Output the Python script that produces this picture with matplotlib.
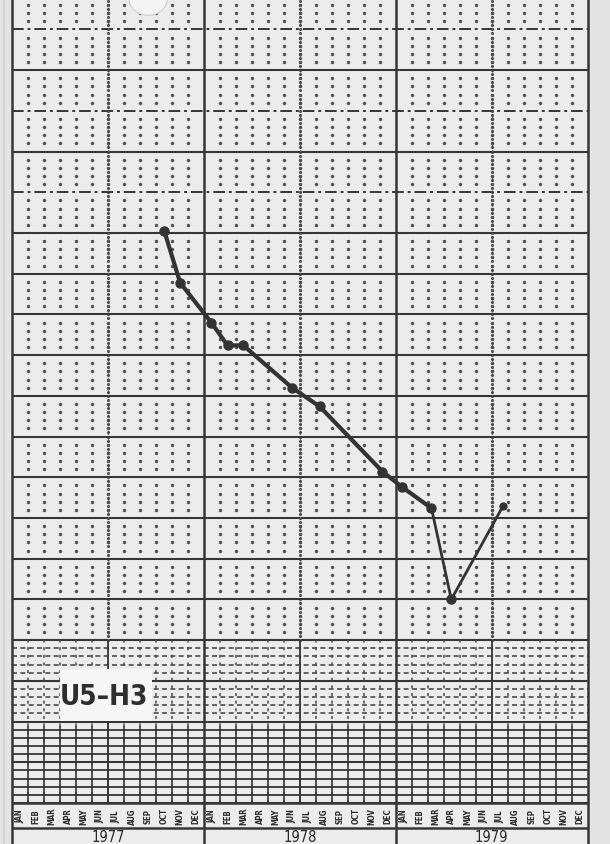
import numpy as np
import pandas as pd
import matplotlib
matplotlib.use("Agg")
import matplotlib.pyplot as plt
from matplotlib.patches import Rectangle, Ellipse
from matplotlib.lines import Line2D
from matplotlib import font_manager


# water level readings for well U5-H3
dates = ["1977-10-17", "1977-11-16", "1978-01-15", "1978-02-14", "1978-03-15",
         "1978-06-16", "1978-08-08", "1978-12-06", "1979-01-13", "1979-03-08",
         "1979-04-15", "1979-07-23"]
levels = [7.02, 6.39, 5.90, 5.62, 5.62, 5.10, 4.87, 4.07, 3.88, 3.62, 2.50, 3.65]

years = [1977, 1978, 1979]
month_abbr = ["JAN", "FEB", "MAR", "APR", "MAY", "JUN",
              "JUL", "AUG", "SEP", "OCT", "NOV", "DEC"]
well_name = "U5\u2013H3"

INK = "#363636"

# pick a narrow face if one is around
names = {f.name for f in font_manager.fontManager.ttflist}
stretches = {(f.name, f.stretch) for f in font_manager.fontManager.ttflist}
if "Liberation Sans Narrow" in names:
    NARROW = dict(family=["Liberation Sans Narrow", "DejaVu Sans"])
elif ("DejaVu Sans", "condensed") in stretches or \
        ("DejaVu Sans", "semi-condensed") in stretches:
    NARROW = dict(family=["DejaVu Sans"], fontstretch="condensed")
else:
    NARROW = dict(family=["Roboto", "DejaVu Sans"])


def to_months(date_strings):
    d = pd.to_datetime(date_strings)
    return ((d.year - years[0]) * 12 + (d.month - 1)
            + (d.day - 1) / d.days_in_month).to_numpy(dtype=float)


n_months = 12 * len(years)
px = 81.43                      # pixels per metre on the sheet
y_top = 804 / px
y_bot = -41 / px
strip = -25 / px

fig = plt.figure(figsize=(6.1, 8.45), dpi=100, facecolor="#e4e4e4")
ax = fig.add_axes([12.3 / 610, 0, 575.4 / 610, 1])
ax.set_facecolor("#ececec")
ax.set_xlim(0, n_months)
ax.set_ylim(y_bot, y_top)
ax.set_xticks([])
ax.set_yticks([])
for side in ["top", "bottom"]:
    ax.spines[side].set_visible(False)
for side in ["left", "right"]:
    ax.spines[side].set_color(INK)
    ax.spines[side].set_linewidth(1.8)

# major horizontal lines every 0.5
for k in range(0, 20):
    v = 0.5 * k
    if v > y_top:
        break
    if v >= 7.5 and k % 2 == 1:
        ax.hlines(v, 0, n_months, color=INK, lw=1.4, ls=(0, (6, 2, 1.5, 2)))
    else:
        ax.hlines(v, 0, n_months, color=INK, lw=1.5)

# minor rows every 0.1
months = np.arange(1, n_months)
month_cols = months[months % 12 != 0]
mid_year = months[months % 12 == 6]
rows = np.round(np.arange(0.1, y_top, 0.1), 2)
rows = rows[np.abs(rows / 0.5 - np.round(rows / 0.5)) > 1e-6]

dot_rows = rows[rows > 2.0]
gx, gy = np.meshgrid(month_cols, dot_rows)
ax.scatter(gx.ravel(), gy.ravel(), s=6, color="#505050", lw=0, zorder=1)
mx, my = np.meshgrid(mid_year, np.round(np.arange(2.0, y_top, 0.05), 3))
ax.scatter(mx.ravel(), my.ravel(), s=5, color="#4a4a4a", lw=0, zorder=1)
ax.vlines(mid_year, 2.0, y_top, color="#6a6a6a", lw=1.0, ls=(0, (1, 3)))

for v in rows[(rows > 0.9) & (rows < 2.0)]:
    ax.hlines(v, 0, n_months, color="#4a4a4a", lw=1.2, ls=(0, (3, 2)))
for v in rows[rows < 0.95]:
    ax.hlines(v, 0, n_months, color=INK, lw=1.3)
ax.vlines(month_cols, 0, 2.0, color="#4a4a4a", lw=1.1, ls=(0, (2, 3)))
ax.vlines(month_cols, 0, 0.95, color=INK, lw=1.2)
ax.vlines(mid_year, 0, 2.0, color=INK, lw=1.3)

# year dividers and bottom strip
ax.vlines([12 * i for i in range(1, len(years))], y_bot, y_top, color=INK, lw=1.8)
ax.hlines([0, strip], 0, n_months, color=INK, lw=1.8)

for i, yr in enumerate(years):
    for j, m in enumerate(month_abbr):
        ax.text(12 * i + j + 0.5, strip / 2, m, rotation=90, ha="center",
                va="center", fontsize=5.6, fontweight="bold", color="#2a2a2a",
                **NARROW)
    ax.text(12 * i + 6, -38.5 / px, str(yr), ha="center", va="baseline",
            fontsize=10.5, color="#2a2a2a", **NARROW)

# well label
ax.add_patch(Rectangle((2.99, 1.007), 5.77, 0.64, facecolor="#f6f6f6",
                       edgecolor="none", zorder=3))
ax.text(5.75, 1.32, well_name, ha="center", va="center", fontsize=20,
        fontweight="bold", color="#2e2e2e", zorder=4, **NARROW)

# smudge at top edge
ax.add_patch(Ellipse((8.5, y_top), 2.4, 0.4, facecolor="#f4f4f4",
                     edgecolor="#cfcfcf", lw=0.8, zorder=3))

# hydrograph
t = to_months(dates)
lv = np.array(levels)
ax.plot(t[:10], lv[:10], color="#333333", lw=3.0, zorder=5,
        solid_capstyle="round", solid_joinstyle="round")
ax.plot(t[9:], lv[9:], color="#333333", lw=2.0, zorder=5)
ax.plot(t[:-1], lv[:-1], "o", color="#333333", ms=6.5, zorder=6)
ax.plot(t[-1:], lv[-1:], "o", color="#333333", ms=5, zorder=6)

# fold line at the left edge of the sheet
fig.add_artist(Line2D([4 / 610, 4 / 610], [0, 1], color="#d0d0d0", lw=1.2))

fig.savefig("out.png", dpi=100, facecolor=fig.get_facecolor())
